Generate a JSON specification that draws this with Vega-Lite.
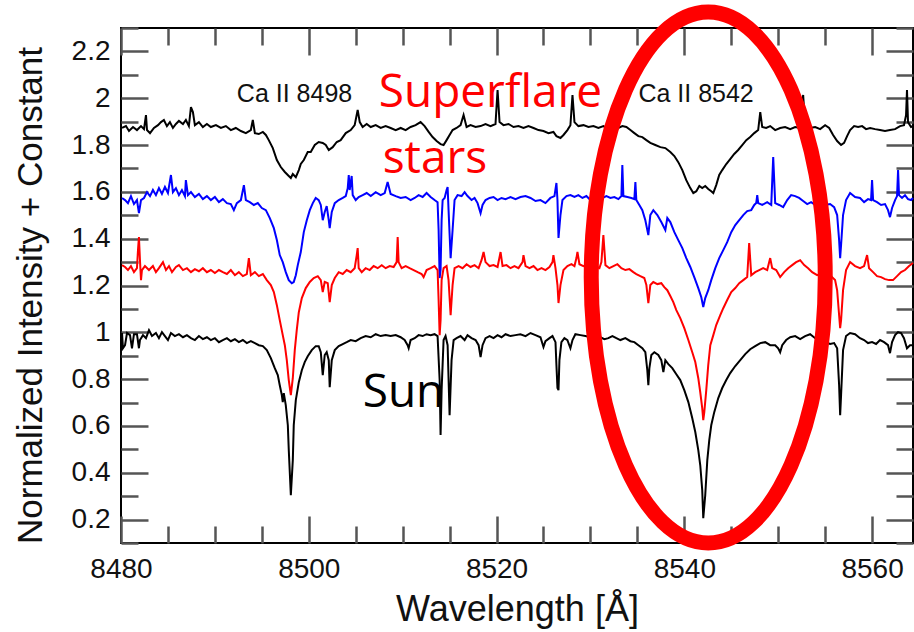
{
"$schema": "https://vega.github.io/schema/vega-lite/v6.json",
"width": 792, "height": 515,
"autosize": {"type": "none"},
"padding": {"left": 121, "top": 28, "right": 1, "bottom": 89},
"background": "white",
"config": {
  "view": {"stroke": "#000000", "strokeWidth": 2},
  "axis": {"grid": false, "domain": false, "labelFont": "Liberation Sans", "titleFont": "Liberation Sans", "titleFontWeight": "normal", "labelColor": "#111111", "titleColor": "#111111", "tickColor": "#555555", "tickWidth": 2.5, "labelOverlap": false, "labelFlush": false, "labelBound": false}
},
"layer": [
{
"data": {"values": [
{"s":"A","w":8480.11,"v":1.873},{"s":"A","w":8480.53,"v":1.881},{"s":"A","w":8480.85,"v":1.860},{"s":"A","w":8481.28,"v":1.877},{"s":"A","w":8481.70,"v":1.864},{"s":"A","w":8482.13,"v":1.881},{"s":"A","w":8482.45,"v":1.868},{"s":"A","w":8482.66,"v":1.928},{"s":"A","w":8482.77,"v":1.864},{"s":"A","w":8483.09,"v":1.851},{"s":"A","w":8483.51,"v":1.873},{"s":"A","w":8483.94,"v":1.885},{"s":"A","w":8484.26,"v":1.898},{"s":"A","w":8484.57,"v":1.907},{"s":"A","w":8484.89,"v":1.881},{"s":"A","w":8485.21,"v":1.898},{"s":"A","w":8485.53,"v":1.873},{"s":"A","w":8485.85,"v":1.890},{"s":"A","w":8486.17,"v":1.903},{"s":"A","w":8486.60,"v":1.890},{"s":"A","w":8486.91,"v":1.907},{"s":"A","w":8487.23,"v":1.881},{"s":"A","w":8487.45,"v":1.962},{"s":"A","w":8487.66,"v":1.941},{"s":"A","w":8487.87,"v":1.885},{"s":"A","w":8488.30,"v":1.898},{"s":"A","w":8488.72,"v":1.877},{"s":"A","w":8489.15,"v":1.890},{"s":"A","w":8489.57,"v":1.877},{"s":"A","w":8490.11,"v":1.885},{"s":"A","w":8490.64,"v":1.873},{"s":"A","w":8491.17,"v":1.881},{"s":"A","w":8491.70,"v":1.864},{"s":"A","w":8492.23,"v":1.873},{"s":"A","w":8492.77,"v":1.860},{"s":"A","w":8493.30,"v":1.851},{"s":"A","w":8493.83,"v":1.864},{"s":"A","w":8494.04,"v":1.907},{"s":"A","w":8494.26,"v":1.851},{"s":"A","w":8494.68,"v":1.847},{"s":"A","w":8495.11,"v":1.856},{"s":"A","w":8495.43,"v":1.843},{"s":"A","w":8495.74,"v":1.821},{"s":"A","w":8496.17,"v":1.787},{"s":"A","w":8496.60,"v":1.736},{"s":"A","w":8497.02,"v":1.706},{"s":"A","w":8497.45,"v":1.685},{"s":"A","w":8497.87,"v":1.668},{"s":"A","w":8498.09,"v":1.659},{"s":"A","w":8498.30,"v":1.676},{"s":"A","w":8498.62,"v":1.663},{"s":"A","w":8498.94,"v":1.693},{"s":"A","w":8499.15,"v":1.719},{"s":"A","w":8499.47,"v":1.736},{"s":"A","w":8499.89,"v":1.770},{"s":"A","w":8500.21,"v":1.770},{"s":"A","w":8500.64,"v":1.800},{"s":"A","w":8501.06,"v":1.813},{"s":"A","w":8501.49,"v":1.809},{"s":"A","w":8501.81,"v":1.800},{"s":"A","w":8502.13,"v":1.779},{"s":"A","w":8502.55,"v":1.791},{"s":"A","w":8502.98,"v":1.813},{"s":"A","w":8503.40,"v":1.821},{"s":"A","w":8503.94,"v":1.851},{"s":"A","w":8504.47,"v":1.864},{"s":"A","w":8504.89,"v":1.885},{"s":"A","w":8505.21,"v":1.950},{"s":"A","w":8505.43,"v":1.898},{"s":"A","w":8505.74,"v":1.877},{"s":"A","w":8506.17,"v":1.890},{"s":"A","w":8506.60,"v":1.877},{"s":"A","w":8507.13,"v":1.885},{"s":"A","w":8507.66,"v":1.873},{"s":"A","w":8508.19,"v":1.881},{"s":"A","w":8508.72,"v":1.873},{"s":"A","w":8509.26,"v":1.864},{"s":"A","w":8509.79,"v":1.873},{"s":"A","w":8510.32,"v":1.864},{"s":"A","w":8510.85,"v":1.877},{"s":"A","w":8511.38,"v":1.885},{"s":"A","w":8511.91,"v":1.898},{"s":"A","w":8512.34,"v":1.881},{"s":"A","w":8512.77,"v":1.856},{"s":"A","w":8513.19,"v":1.834},{"s":"A","w":8513.62,"v":1.817},{"s":"A","w":8514.04,"v":1.804},{"s":"A","w":8514.36,"v":1.800},{"s":"A","w":8514.68,"v":1.821},{"s":"A","w":8515.00,"v":1.843},{"s":"A","w":8515.32,"v":1.864},{"s":"A","w":8515.74,"v":1.873},{"s":"A","w":8516.17,"v":1.885},{"s":"A","w":8516.49,"v":1.928},{"s":"A","w":8516.81,"v":1.877},{"s":"A","w":8517.23,"v":1.885},{"s":"A","w":8517.77,"v":1.877},{"s":"A","w":8518.30,"v":1.881},{"s":"A","w":8518.83,"v":1.890},{"s":"A","w":8519.36,"v":1.881},{"s":"A","w":8519.89,"v":1.890},{"s":"A","w":8520.11,"v":2.035},{"s":"A","w":8520.32,"v":1.898},{"s":"A","w":8520.74,"v":1.885},{"s":"A","w":8521.28,"v":1.890},{"s":"A","w":8521.81,"v":1.877},{"s":"A","w":8522.34,"v":1.881},{"s":"A","w":8522.87,"v":1.873},{"s":"A","w":8523.40,"v":1.881},{"s":"A","w":8523.94,"v":1.873},{"s":"A","w":8524.47,"v":1.864},{"s":"A","w":8525.00,"v":1.860},{"s":"A","w":8525.53,"v":1.851},{"s":"A","w":8526.06,"v":1.856},{"s":"A","w":8526.38,"v":1.838},{"s":"A","w":8526.81,"v":1.830},{"s":"A","w":8527.13,"v":1.843},{"s":"A","w":8527.55,"v":1.864},{"s":"A","w":8527.87,"v":1.885},{"s":"A","w":8528.09,"v":2.014},{"s":"A","w":8528.30,"v":1.898},{"s":"A","w":8528.72,"v":1.881},{"s":"A","w":8529.26,"v":1.885},{"s":"A","w":8529.79,"v":1.877},{"s":"A","w":8530.32,"v":1.881},{"s":"A","w":8530.85,"v":1.873},{"s":"A","w":8531.38,"v":1.881},{"s":"A","w":8531.91,"v":1.868},{"s":"A","w":8532.45,"v":1.881},{"s":"A","w":8532.98,"v":1.873},{"s":"A","w":8533.40,"v":1.881},{"s":"A","w":8533.83,"v":1.877},{"s":"A","w":8534.26,"v":1.864},{"s":"A","w":8534.68,"v":1.851},{"s":"A","w":8535.11,"v":1.838},{"s":"A","w":8535.53,"v":1.834},{"s":"A","w":8535.96,"v":1.821},{"s":"A","w":8536.38,"v":1.809},{"s":"A","w":8536.91,"v":1.800},{"s":"A","w":8537.45,"v":1.791},{"s":"A","w":8537.98,"v":1.787},{"s":"A","w":8538.51,"v":1.770},{"s":"A","w":8538.94,"v":1.753},{"s":"A","w":8539.36,"v":1.727},{"s":"A","w":8539.79,"v":1.693},{"s":"A","w":8540.21,"v":1.650},{"s":"A","w":8540.64,"v":1.616},{"s":"A","w":8540.96,"v":1.595},{"s":"A","w":8541.28,"v":1.603},{"s":"A","w":8541.60,"v":1.625},{"s":"A","w":8541.91,"v":1.616},{"s":"A","w":8542.23,"v":1.625},{"s":"A","w":8542.55,"v":1.612},{"s":"A","w":8542.87,"v":1.603},{"s":"A","w":8543.09,"v":1.595},{"s":"A","w":8543.40,"v":1.629},{"s":"A","w":8543.72,"v":1.672},{"s":"A","w":8544.04,"v":1.693},{"s":"A","w":8544.47,"v":1.719},{"s":"A","w":8544.89,"v":1.740},{"s":"A","w":8545.32,"v":1.762},{"s":"A","w":8545.74,"v":1.779},{"s":"A","w":8546.17,"v":1.800},{"s":"A","w":8546.60,"v":1.821},{"s":"A","w":8547.02,"v":1.834},{"s":"A","w":8547.45,"v":1.851},{"s":"A","w":8547.87,"v":1.864},{"s":"A","w":8548.09,"v":1.941},{"s":"A","w":8548.30,"v":1.877},{"s":"A","w":8548.72,"v":1.873},{"s":"A","w":8549.15,"v":1.881},{"s":"A","w":8549.68,"v":1.864},{"s":"A","w":8550.21,"v":1.873},{"s":"A","w":8550.74,"v":1.877},{"s":"A","w":8551.28,"v":1.868},{"s":"A","w":8551.81,"v":1.877},{"s":"A","w":8552.34,"v":1.873},{"s":"A","w":8552.66,"v":2.014},{"s":"A","w":8552.87,"v":1.881},{"s":"A","w":8553.40,"v":1.873},{"s":"A","w":8553.94,"v":1.877},{"s":"A","w":8554.47,"v":1.868},{"s":"A","w":8555.00,"v":1.885},{"s":"A","w":8555.43,"v":1.873},{"s":"A","w":8555.85,"v":1.843},{"s":"A","w":8556.28,"v":1.817},{"s":"A","w":8556.70,"v":1.800},{"s":"A","w":8557.02,"v":1.809},{"s":"A","w":8557.34,"v":1.838},{"s":"A","w":8557.66,"v":1.864},{"s":"A","w":8558.09,"v":1.881},{"s":"A","w":8558.51,"v":1.877},{"s":"A","w":8558.94,"v":1.881},{"s":"A","w":8559.36,"v":1.868},{"s":"A","w":8559.79,"v":1.873},{"s":"A","w":8560.32,"v":1.868},{"s":"A","w":8560.85,"v":1.864},{"s":"A","w":8561.38,"v":1.860},{"s":"A","w":8561.91,"v":1.864},{"s":"A","w":8562.45,"v":1.868},{"s":"A","w":8562.98,"v":1.881},{"s":"A","w":8563.40,"v":1.885},{"s":"A","w":8563.62,"v":1.928},{"s":"A","w":8563.72,"v":2.035},{"s":"A","w":8563.83,"v":1.898},{"s":"A","w":8564.15,"v":1.877},{"s":"A","w":8564.36,"v":1.881},
{"s":"B","w":8480.11,"v":1.574},{"s":"B","w":8480.43,"v":1.565},{"s":"B","w":8480.74,"v":1.552},{"s":"B","w":8481.06,"v":1.582},{"s":"B","w":8481.38,"v":1.548},{"s":"B","w":8481.70,"v":1.565},{"s":"B","w":8481.91,"v":1.509},{"s":"B","w":8482.13,"v":1.565},{"s":"B","w":8482.45,"v":1.574},{"s":"B","w":8482.77,"v":1.599},{"s":"B","w":8483.09,"v":1.582},{"s":"B","w":8483.40,"v":1.608},{"s":"B","w":8483.72,"v":1.586},{"s":"B","w":8484.04,"v":1.616},{"s":"B","w":8484.36,"v":1.591},{"s":"B","w":8484.68,"v":1.621},{"s":"B","w":8485.00,"v":1.595},{"s":"B","w":8485.32,"v":1.672},{"s":"B","w":8485.53,"v":1.599},{"s":"B","w":8485.85,"v":1.616},{"s":"B","w":8486.17,"v":1.586},{"s":"B","w":8486.49,"v":1.608},{"s":"B","w":8486.81,"v":1.582},{"s":"B","w":8486.91,"v":1.650},{"s":"B","w":8487.13,"v":1.586},{"s":"B","w":8487.45,"v":1.599},{"s":"B","w":8487.87,"v":1.578},{"s":"B","w":8488.30,"v":1.591},{"s":"B","w":8488.72,"v":1.569},{"s":"B","w":8489.15,"v":1.582},{"s":"B","w":8489.57,"v":1.565},{"s":"B","w":8490.00,"v":1.578},{"s":"B","w":8490.43,"v":1.556},{"s":"B","w":8490.85,"v":1.569},{"s":"B","w":8491.28,"v":1.552},{"s":"B","w":8491.70,"v":1.548},{"s":"B","w":8492.02,"v":1.522},{"s":"B","w":8492.34,"v":1.552},{"s":"B","w":8492.77,"v":1.565},{"s":"B","w":8493.09,"v":1.629},{"s":"B","w":8493.30,"v":1.565},{"s":"B","w":8493.72,"v":1.556},{"s":"B","w":8494.15,"v":1.544},{"s":"B","w":8494.57,"v":1.552},{"s":"B","w":8495.00,"v":1.531},{"s":"B","w":8495.43,"v":1.522},{"s":"B","w":8495.85,"v":1.488},{"s":"B","w":8496.28,"v":1.445},{"s":"B","w":8496.60,"v":1.394},{"s":"B","w":8496.91,"v":1.330},{"s":"B","w":8497.23,"v":1.300},{"s":"B","w":8497.55,"v":1.257},{"s":"B","w":8497.87,"v":1.223},{"s":"B","w":8498.19,"v":1.210},{"s":"B","w":8498.40,"v":1.215},{"s":"B","w":8498.62,"v":1.244},{"s":"B","w":8498.83,"v":1.287},{"s":"B","w":8499.15,"v":1.343},{"s":"B","w":8499.47,"v":1.428},{"s":"B","w":8499.79,"v":1.479},{"s":"B","w":8500.11,"v":1.522},{"s":"B","w":8500.43,"v":1.552},{"s":"B","w":8500.74,"v":1.574},{"s":"B","w":8501.06,"v":1.565},{"s":"B","w":8501.28,"v":1.544},{"s":"B","w":8501.49,"v":1.479},{"s":"B","w":8501.70,"v":1.514},{"s":"B","w":8501.91,"v":1.539},{"s":"B","w":8502.13,"v":1.479},{"s":"B","w":8502.23,"v":1.445},{"s":"B","w":8502.45,"v":1.514},{"s":"B","w":8502.77,"v":1.552},{"s":"B","w":8503.19,"v":1.565},{"s":"B","w":8503.62,"v":1.574},{"s":"B","w":8503.94,"v":1.582},{"s":"B","w":8504.15,"v":1.616},{"s":"B","w":8504.26,"v":1.672},{"s":"B","w":8504.36,"v":1.608},{"s":"B","w":8504.57,"v":1.668},{"s":"B","w":8504.68,"v":1.586},{"s":"B","w":8505.00,"v":1.565},{"s":"B","w":8505.32,"v":1.578},{"s":"B","w":8505.74,"v":1.586},{"s":"B","w":8506.17,"v":1.595},{"s":"B","w":8506.60,"v":1.582},{"s":"B","w":8507.13,"v":1.599},{"s":"B","w":8507.66,"v":1.586},{"s":"B","w":8508.09,"v":1.595},{"s":"B","w":8508.40,"v":1.642},{"s":"B","w":8508.72,"v":1.591},{"s":"B","w":8509.26,"v":1.582},{"s":"B","w":8509.79,"v":1.574},{"s":"B","w":8510.32,"v":1.578},{"s":"B","w":8510.85,"v":1.565},{"s":"B","w":8511.28,"v":1.574},{"s":"B","w":8511.70,"v":1.586},{"s":"B","w":8512.13,"v":1.578},{"s":"B","w":8512.55,"v":1.595},{"s":"B","w":8512.98,"v":1.578},{"s":"B","w":8513.40,"v":1.565},{"s":"B","w":8513.72,"v":1.556},{"s":"B","w":8513.83,"v":1.437},{"s":"B","w":8513.94,"v":1.232},{"s":"B","w":8514.04,"v":1.266},{"s":"B","w":8514.15,"v":1.479},{"s":"B","w":8514.26,"v":1.565},{"s":"B","w":8514.47,"v":1.574},{"s":"B","w":8514.68,"v":1.608},{"s":"B","w":8514.79,"v":1.621},{"s":"B","w":8514.89,"v":1.522},{"s":"B","w":8515.11,"v":1.317},{"s":"B","w":8515.32,"v":1.437},{"s":"B","w":8515.53,"v":1.565},{"s":"B","w":8515.85,"v":1.586},{"s":"B","w":8516.28,"v":1.582},{"s":"B","w":8516.60,"v":1.599},{"s":"B","w":8516.91,"v":1.582},{"s":"B","w":8517.34,"v":1.565},{"s":"B","w":8517.66,"v":1.574},{"s":"B","w":8517.98,"v":1.552},{"s":"B","w":8518.30,"v":1.509},{"s":"B","w":8518.51,"v":1.544},{"s":"B","w":8518.83,"v":1.565},{"s":"B","w":8519.26,"v":1.574},{"s":"B","w":8519.68,"v":1.578},{"s":"B","w":8520.11,"v":1.565},{"s":"B","w":8520.53,"v":1.574},{"s":"B","w":8520.96,"v":1.569},{"s":"B","w":8521.49,"v":1.578},{"s":"B","w":8522.02,"v":1.569},{"s":"B","w":8522.55,"v":1.578},{"s":"B","w":8523.09,"v":1.582},{"s":"B","w":8523.62,"v":1.574},{"s":"B","w":8524.15,"v":1.561},{"s":"B","w":8524.68,"v":1.565},{"s":"B","w":8525.21,"v":1.552},{"s":"B","w":8525.74,"v":1.574},{"s":"B","w":8526.17,"v":1.582},{"s":"B","w":8526.38,"v":1.638},{"s":"B","w":8526.49,"v":1.565},{"s":"B","w":8526.60,"v":1.403},{"s":"B","w":8526.81,"v":1.501},{"s":"B","w":8527.02,"v":1.565},{"s":"B","w":8527.45,"v":1.582},{"s":"B","w":8527.87,"v":1.586},{"s":"B","w":8528.30,"v":1.578},{"s":"B","w":8528.72,"v":1.586},{"s":"B","w":8529.15,"v":1.574},{"s":"B","w":8529.57,"v":1.582},{"s":"B","w":8530.00,"v":1.565},{"s":"B","w":8530.43,"v":1.561},{"s":"B","w":8530.85,"v":1.569},{"s":"B","w":8531.28,"v":1.574},{"s":"B","w":8531.70,"v":1.582},{"s":"B","w":8532.13,"v":1.574},{"s":"B","w":8532.55,"v":1.578},{"s":"B","w":8532.98,"v":1.569},{"s":"B","w":8533.30,"v":1.582},{"s":"B","w":8533.40,"v":1.715},{"s":"B","w":8533.51,"v":1.582},{"s":"B","w":8533.94,"v":1.578},{"s":"B","w":8534.36,"v":1.574},{"s":"B","w":8534.68,"v":1.569},{"s":"B","w":8534.79,"v":1.642},{"s":"B","w":8534.89,"v":1.565},{"s":"B","w":8535.21,"v":1.544},{"s":"B","w":8535.53,"v":1.522},{"s":"B","w":8535.85,"v":1.479},{"s":"B","w":8536.17,"v":1.415},{"s":"B","w":8536.38,"v":1.501},{"s":"B","w":8536.70,"v":1.522},{"s":"B","w":8537.13,"v":1.501},{"s":"B","w":8537.55,"v":1.471},{"s":"B","w":8537.98,"v":1.437},{"s":"B","w":8538.19,"v":1.488},{"s":"B","w":8538.51,"v":1.471},{"s":"B","w":8538.94,"v":1.428},{"s":"B","w":8539.36,"v":1.394},{"s":"B","w":8539.79,"v":1.360},{"s":"B","w":8540.21,"v":1.317},{"s":"B","w":8540.64,"v":1.279},{"s":"B","w":8541.06,"v":1.236},{"s":"B","w":8541.49,"v":1.189},{"s":"B","w":8541.81,"v":1.150},{"s":"B","w":8542.02,"v":1.108},{"s":"B","w":8542.23,"v":1.146},{"s":"B","w":8542.55,"v":1.180},{"s":"B","w":8542.87,"v":1.223},{"s":"B","w":8543.30,"v":1.274},{"s":"B","w":8543.72,"v":1.317},{"s":"B","w":8544.15,"v":1.351},{"s":"B","w":8544.57,"v":1.385},{"s":"B","w":8545.00,"v":1.428},{"s":"B","w":8545.43,"v":1.458},{"s":"B","w":8545.85,"v":1.479},{"s":"B","w":8546.28,"v":1.501},{"s":"B","w":8546.70,"v":1.518},{"s":"B","w":8547.13,"v":1.522},{"s":"B","w":8547.45,"v":1.544},{"s":"B","w":8547.66,"v":1.552},{"s":"B","w":8547.77,"v":1.586},{"s":"B","w":8547.87,"v":1.552},{"s":"B","w":8548.30,"v":1.544},{"s":"B","w":8548.83,"v":1.556},{"s":"B","w":8549.26,"v":1.544},{"s":"B","w":8549.47,"v":1.749},{"s":"B","w":8549.68,"v":1.552},{"s":"B","w":8550.11,"v":1.544},{"s":"B","w":8550.53,"v":1.535},{"s":"B","w":8550.96,"v":1.565},{"s":"B","w":8551.38,"v":1.586},{"s":"B","w":8551.81,"v":1.582},{"s":"B","w":8552.23,"v":1.574},{"s":"B","w":8552.66,"v":1.561},{"s":"B","w":8553.09,"v":1.548},{"s":"B","w":8553.51,"v":1.556},{"s":"B","w":8553.94,"v":1.544},{"s":"B","w":8554.47,"v":1.552},{"s":"B","w":8555.00,"v":1.544},{"s":"B","w":8555.53,"v":1.548},{"s":"B","w":8555.96,"v":1.535},{"s":"B","w":8556.28,"v":1.501},{"s":"B","w":8556.49,"v":1.394},{"s":"B","w":8556.60,"v":1.317},{"s":"B","w":8556.70,"v":1.373},{"s":"B","w":8556.91,"v":1.501},{"s":"B","w":8557.23,"v":1.565},{"s":"B","w":8557.66,"v":1.595},{"s":"B","w":8558.19,"v":1.578},{"s":"B","w":8558.72,"v":1.574},{"s":"B","w":8559.15,"v":1.556},{"s":"B","w":8559.57,"v":1.569},{"s":"B","w":8559.89,"v":1.565},{"s":"B","w":8560.00,"v":1.650},{"s":"B","w":8560.11,"v":1.565},{"s":"B","w":8560.53,"v":1.556},{"s":"B","w":8560.96,"v":1.544},{"s":"B","w":8561.38,"v":1.548},{"s":"B","w":8561.70,"v":1.522},{"s":"B","w":8561.91,"v":1.492},{"s":"B","w":8562.13,"v":1.531},{"s":"B","w":8562.45,"v":1.565},{"s":"B","w":8562.66,"v":1.582},{"s":"B","w":8562.77,"v":1.693},{"s":"B","w":8562.87,"v":1.586},{"s":"B","w":8563.19,"v":1.574},{"s":"B","w":8563.51,"v":1.586},{"s":"B","w":8563.83,"v":1.569},{"s":"B","w":8564.15,"v":1.565},{"s":"B","w":8564.36,"v":1.574},
{"s":"C","w":8480.11,"v":1.287},{"s":"C","w":8480.43,"v":1.279},{"s":"C","w":8480.74,"v":1.266},{"s":"C","w":8481.06,"v":1.283},{"s":"C","w":8481.38,"v":1.257},{"s":"C","w":8481.70,"v":1.274},{"s":"C","w":8481.81,"v":1.351},{"s":"C","w":8481.91,"v":1.407},{"s":"C","w":8482.02,"v":1.308},{"s":"C","w":8482.13,"v":1.223},{"s":"C","w":8482.23,"v":1.266},{"s":"C","w":8482.55,"v":1.283},{"s":"C","w":8482.98,"v":1.266},{"s":"C","w":8483.40,"v":1.283},{"s":"C","w":8483.72,"v":1.257},{"s":"C","w":8484.04,"v":1.274},{"s":"C","w":8484.47,"v":1.300},{"s":"C","w":8484.79,"v":1.266},{"s":"C","w":8485.11,"v":1.283},{"s":"C","w":8485.43,"v":1.257},{"s":"C","w":8485.85,"v":1.279},{"s":"C","w":8486.17,"v":1.287},{"s":"C","w":8486.60,"v":1.266},{"s":"C","w":8487.02,"v":1.274},{"s":"C","w":8487.45,"v":1.257},{"s":"C","w":8487.87,"v":1.270},{"s":"C","w":8488.30,"v":1.261},{"s":"C","w":8488.72,"v":1.274},{"s":"C","w":8489.15,"v":1.257},{"s":"C","w":8489.57,"v":1.266},{"s":"C","w":8490.00,"v":1.253},{"s":"C","w":8490.43,"v":1.266},{"s":"C","w":8490.85,"v":1.257},{"s":"C","w":8491.28,"v":1.249},{"s":"C","w":8491.70,"v":1.266},{"s":"C","w":8492.13,"v":1.244},{"s":"C","w":8492.55,"v":1.257},{"s":"C","w":8492.98,"v":1.240},{"s":"C","w":8493.40,"v":1.249},{"s":"C","w":8493.62,"v":1.317},{"s":"C","w":8493.83,"v":1.244},{"s":"C","w":8494.26,"v":1.257},{"s":"C","w":8494.68,"v":1.240},{"s":"C","w":8495.11,"v":1.249},{"s":"C","w":8495.53,"v":1.223},{"s":"C","w":8495.96,"v":1.202},{"s":"C","w":8496.28,"v":1.172},{"s":"C","w":8496.60,"v":1.116},{"s":"C","w":8496.91,"v":1.052},{"s":"C","w":8497.23,"v":0.988},{"s":"C","w":8497.45,"v":0.945},{"s":"C","w":8497.66,"v":0.881},{"s":"C","w":8497.87,"v":0.796},{"s":"C","w":8498.09,"v":0.732},{"s":"C","w":8498.30,"v":0.804},{"s":"C","w":8498.51,"v":0.924},{"s":"C","w":8498.72,"v":1.009},{"s":"C","w":8498.94,"v":1.086},{"s":"C","w":8499.26,"v":1.146},{"s":"C","w":8499.68,"v":1.189},{"s":"C","w":8500.11,"v":1.215},{"s":"C","w":8500.53,"v":1.232},{"s":"C","w":8500.96,"v":1.240},{"s":"C","w":8501.28,"v":1.223},{"s":"C","w":8501.49,"v":1.172},{"s":"C","w":8501.70,"v":1.215},{"s":"C","w":8502.02,"v":1.210},{"s":"C","w":8502.23,"v":1.129},{"s":"C","w":8502.45,"v":1.202},{"s":"C","w":8502.77,"v":1.232},{"s":"C","w":8503.19,"v":1.257},{"s":"C","w":8503.62,"v":1.249},{"s":"C","w":8504.04,"v":1.266},{"s":"C","w":8504.47,"v":1.257},{"s":"C","w":8504.89,"v":1.274},{"s":"C","w":8505.11,"v":1.330},{"s":"C","w":8505.21,"v":1.360},{"s":"C","w":8505.32,"v":1.274},{"s":"C","w":8505.64,"v":1.257},{"s":"C","w":8506.06,"v":1.274},{"s":"C","w":8506.49,"v":1.266},{"s":"C","w":8506.91,"v":1.283},{"s":"C","w":8507.34,"v":1.274},{"s":"C","w":8507.77,"v":1.287},{"s":"C","w":8508.19,"v":1.274},{"s":"C","w":8508.62,"v":1.283},{"s":"C","w":8509.04,"v":1.279},{"s":"C","w":8509.36,"v":1.300},{"s":"C","w":8509.47,"v":1.407},{"s":"C","w":8509.57,"v":1.300},{"s":"C","w":8509.89,"v":1.274},{"s":"C","w":8510.32,"v":1.283},{"s":"C","w":8510.74,"v":1.274},{"s":"C","w":8511.17,"v":1.266},{"s":"C","w":8511.60,"v":1.257},{"s":"C","w":8512.02,"v":1.249},{"s":"C","w":8512.23,"v":1.236},{"s":"C","w":8512.55,"v":1.266},{"s":"C","w":8512.98,"v":1.274},{"s":"C","w":8513.40,"v":1.283},{"s":"C","w":8513.72,"v":1.266},{"s":"C","w":8513.83,"v":1.138},{"s":"C","w":8513.94,"v":0.988},{"s":"C","w":8514.04,"v":1.052},{"s":"C","w":8514.15,"v":1.223},{"s":"C","w":8514.36,"v":1.274},{"s":"C","w":8514.68,"v":1.283},{"s":"C","w":8514.89,"v":1.223},{"s":"C","w":8515.11,"v":1.073},{"s":"C","w":8515.32,"v":1.202},{"s":"C","w":8515.53,"v":1.274},{"s":"C","w":8515.96,"v":1.283},{"s":"C","w":8516.38,"v":1.274},{"s":"C","w":8516.81,"v":1.291},{"s":"C","w":8517.23,"v":1.279},{"s":"C","w":8517.66,"v":1.287},{"s":"C","w":8518.09,"v":1.274},{"s":"C","w":8518.40,"v":1.308},{"s":"C","w":8518.62,"v":1.343},{"s":"C","w":8518.83,"v":1.300},{"s":"C","w":8519.26,"v":1.283},{"s":"C","w":8519.68,"v":1.287},{"s":"C","w":8520.11,"v":1.279},{"s":"C","w":8520.43,"v":1.343},{"s":"C","w":8520.64,"v":1.283},{"s":"C","w":8521.06,"v":1.287},{"s":"C","w":8521.49,"v":1.274},{"s":"C","w":8521.91,"v":1.283},{"s":"C","w":8522.34,"v":1.274},{"s":"C","w":8522.77,"v":1.300},{"s":"C","w":8522.87,"v":1.330},{"s":"C","w":8523.09,"v":1.283},{"s":"C","w":8523.51,"v":1.274},{"s":"C","w":8523.94,"v":1.283},{"s":"C","w":8524.36,"v":1.266},{"s":"C","w":8524.79,"v":1.274},{"s":"C","w":8525.21,"v":1.266},{"s":"C","w":8525.64,"v":1.279},{"s":"C","w":8525.96,"v":1.300},{"s":"C","w":8526.06,"v":1.330},{"s":"C","w":8526.28,"v":1.274},{"s":"C","w":8526.49,"v":1.202},{"s":"C","w":8526.60,"v":1.125},{"s":"C","w":8526.81,"v":1.202},{"s":"C","w":8527.13,"v":1.266},{"s":"C","w":8527.55,"v":1.283},{"s":"C","w":8527.98,"v":1.291},{"s":"C","w":8528.30,"v":1.283},{"s":"C","w":8528.51,"v":1.317},{"s":"C","w":8528.62,"v":1.343},{"s":"C","w":8528.83,"v":1.291},{"s":"C","w":8529.26,"v":1.283},{"s":"C","w":8529.68,"v":1.291},{"s":"C","w":8530.11,"v":1.274},{"s":"C","w":8530.53,"v":1.283},{"s":"C","w":8530.96,"v":1.274},{"s":"C","w":8531.17,"v":1.300},{"s":"C","w":8531.38,"v":1.415},{"s":"C","w":8531.60,"v":1.287},{"s":"C","w":8532.02,"v":1.274},{"s":"C","w":8532.45,"v":1.283},{"s":"C","w":8532.87,"v":1.291},{"s":"C","w":8533.30,"v":1.274},{"s":"C","w":8533.72,"v":1.266},{"s":"C","w":8534.15,"v":1.270},{"s":"C","w":8534.57,"v":1.257},{"s":"C","w":8534.89,"v":1.249},{"s":"C","w":8535.32,"v":1.240},{"s":"C","w":8535.74,"v":1.232},{"s":"C","w":8535.96,"v":1.202},{"s":"C","w":8536.17,"v":1.125},{"s":"C","w":8536.38,"v":1.202},{"s":"C","w":8536.70,"v":1.215},{"s":"C","w":8537.13,"v":1.206},{"s":"C","w":8537.55,"v":1.210},{"s":"C","w":8537.87,"v":1.193},{"s":"C","w":8538.19,"v":1.180},{"s":"C","w":8538.51,"v":1.155},{"s":"C","w":8538.83,"v":1.129},{"s":"C","w":8539.15,"v":1.095},{"s":"C","w":8539.57,"v":1.061},{"s":"C","w":8540.00,"v":1.018},{"s":"C","w":8540.43,"v":0.967},{"s":"C","w":8540.85,"v":0.915},{"s":"C","w":8541.17,"v":0.873},{"s":"C","w":8541.49,"v":0.804},{"s":"C","w":8541.70,"v":0.744},{"s":"C","w":8541.91,"v":0.676},{"s":"C","w":8542.02,"v":0.625},{"s":"C","w":8542.13,"v":0.659},{"s":"C","w":8542.34,"v":0.753},{"s":"C","w":8542.55,"v":0.860},{"s":"C","w":8542.77,"v":0.945},{"s":"C","w":8543.09,"v":0.988},{"s":"C","w":8543.40,"v":1.031},{"s":"C","w":8543.83,"v":1.073},{"s":"C","w":8544.15,"v":1.103},{"s":"C","w":8544.57,"v":1.138},{"s":"C","w":8545.00,"v":1.172},{"s":"C","w":8545.43,"v":1.189},{"s":"C","w":8545.85,"v":1.210},{"s":"C","w":8546.28,"v":1.223},{"s":"C","w":8546.70,"v":1.236},{"s":"C","w":8546.91,"v":1.381},{"s":"C","w":8547.13,"v":1.244},{"s":"C","w":8547.55,"v":1.257},{"s":"C","w":8547.98,"v":1.266},{"s":"C","w":8548.40,"v":1.274},{"s":"C","w":8548.83,"v":1.266},{"s":"C","w":8549.15,"v":1.317},{"s":"C","w":8549.36,"v":1.274},{"s":"C","w":8549.79,"v":1.266},{"s":"C","w":8550.21,"v":1.236},{"s":"C","w":8550.64,"v":1.257},{"s":"C","w":8551.06,"v":1.274},{"s":"C","w":8551.49,"v":1.287},{"s":"C","w":8551.91,"v":1.300},{"s":"C","w":8552.34,"v":1.308},{"s":"C","w":8552.77,"v":1.287},{"s":"C","w":8553.19,"v":1.274},{"s":"C","w":8553.62,"v":1.257},{"s":"C","w":8554.15,"v":1.244},{"s":"C","w":8554.68,"v":1.253},{"s":"C","w":8555.21,"v":1.240},{"s":"C","w":8555.64,"v":1.240},{"s":"C","w":8556.06,"v":1.223},{"s":"C","w":8556.28,"v":1.180},{"s":"C","w":8556.49,"v":1.073},{"s":"C","w":8556.60,"v":1.018},{"s":"C","w":8556.70,"v":1.052},{"s":"C","w":8556.91,"v":1.180},{"s":"C","w":8557.23,"v":1.266},{"s":"C","w":8557.66,"v":1.300},{"s":"C","w":8558.19,"v":1.283},{"s":"C","w":8558.72,"v":1.274},{"s":"C","w":8559.15,"v":1.283},{"s":"C","w":8559.47,"v":1.330},{"s":"C","w":8559.68,"v":1.274},{"s":"C","w":8560.11,"v":1.257},{"s":"C","w":8560.53,"v":1.240},{"s":"C","w":8560.96,"v":1.236},{"s":"C","w":8561.38,"v":1.227},{"s":"C","w":8561.81,"v":1.223},{"s":"C","w":8562.23,"v":1.223},{"s":"C","w":8562.66,"v":1.240},{"s":"C","w":8563.09,"v":1.257},{"s":"C","w":8563.51,"v":1.266},{"s":"C","w":8563.94,"v":1.283},{"s":"C","w":8564.36,"v":1.296},
{"s":"Sun","w":8480.11,"v":0.997},{"s":"Sun","w":8480.21,"v":0.932},{"s":"Sun","w":8480.43,"v":0.945},{"s":"Sun","w":8480.64,"v":0.997},{"s":"Sun","w":8480.96,"v":0.988},{"s":"Sun","w":8481.17,"v":0.932},{"s":"Sun","w":8481.38,"v":0.992},{"s":"Sun","w":8481.70,"v":0.992},{"s":"Sun","w":8481.91,"v":0.932},{"s":"Sun","w":8482.02,"v":0.967},{"s":"Sun","w":8482.34,"v":0.988},{"s":"Sun","w":8482.66,"v":0.975},{"s":"Sun","w":8482.98,"v":1.009},{"s":"Sun","w":8483.30,"v":0.984},{"s":"Sun","w":8483.72,"v":0.997},{"s":"Sun","w":8484.04,"v":0.975},{"s":"Sun","w":8484.36,"v":1.001},{"s":"Sun","w":8484.68,"v":0.984},{"s":"Sun","w":8485.00,"v":0.967},{"s":"Sun","w":8485.32,"v":0.997},{"s":"Sun","w":8485.74,"v":0.984},{"s":"Sun","w":8486.17,"v":0.992},{"s":"Sun","w":8486.60,"v":0.979},{"s":"Sun","w":8487.02,"v":0.988},{"s":"Sun","w":8487.45,"v":0.975},{"s":"Sun","w":8487.87,"v":0.967},{"s":"Sun","w":8488.30,"v":0.984},{"s":"Sun","w":8488.72,"v":0.971},{"s":"Sun","w":8489.15,"v":0.979},{"s":"Sun","w":8489.57,"v":0.967},{"s":"Sun","w":8490.00,"v":0.975},{"s":"Sun","w":8490.43,"v":0.958},{"s":"Sun","w":8490.85,"v":0.967},{"s":"Sun","w":8491.28,"v":0.975},{"s":"Sun","w":8491.70,"v":0.962},{"s":"Sun","w":8492.13,"v":0.971},{"s":"Sun","w":8492.55,"v":0.958},{"s":"Sun","w":8492.98,"v":0.967},{"s":"Sun","w":8493.40,"v":0.954},{"s":"Sun","w":8493.83,"v":0.962},{"s":"Sun","w":8494.26,"v":0.954},{"s":"Sun","w":8494.68,"v":0.945},{"s":"Sun","w":8495.11,"v":0.941},{"s":"Sun","w":8495.53,"v":0.924},{"s":"Sun","w":8495.96,"v":0.890},{"s":"Sun","w":8496.38,"v":0.847},{"s":"Sun","w":8496.70,"v":0.817},{"s":"Sun","w":8496.91,"v":0.774},{"s":"Sun","w":8497.13,"v":0.732},{"s":"Sun","w":8497.23,"v":0.702},{"s":"Sun","w":8497.34,"v":0.740},{"s":"Sun","w":8497.55,"v":0.689},{"s":"Sun","w":8497.77,"v":0.603},{"s":"Sun","w":8497.87,"v":0.497},{"s":"Sun","w":8498.09,"v":0.304},{"s":"Sun","w":8498.30,"v":0.454},{"s":"Sun","w":8498.40,"v":0.603},{"s":"Sun","w":8498.62,"v":0.710},{"s":"Sun","w":8498.94,"v":0.787},{"s":"Sun","w":8499.26,"v":0.838},{"s":"Sun","w":8499.57,"v":0.873},{"s":"Sun","w":8499.89,"v":0.898},{"s":"Sun","w":8500.32,"v":0.924},{"s":"Sun","w":8500.74,"v":0.941},{"s":"Sun","w":8501.06,"v":0.941},{"s":"Sun","w":8501.28,"v":0.915},{"s":"Sun","w":8501.49,"v":0.817},{"s":"Sun","w":8501.70,"v":0.903},{"s":"Sun","w":8501.91,"v":0.915},{"s":"Sun","w":8502.13,"v":0.881},{"s":"Sun","w":8502.23,"v":0.766},{"s":"Sun","w":8502.45,"v":0.881},{"s":"Sun","w":8502.77,"v":0.924},{"s":"Sun","w":8503.19,"v":0.941},{"s":"Sun","w":8503.62,"v":0.950},{"s":"Sun","w":8504.04,"v":0.958},{"s":"Sun","w":8504.47,"v":0.967},{"s":"Sun","w":8505.00,"v":0.962},{"s":"Sun","w":8505.53,"v":0.975},{"s":"Sun","w":8506.06,"v":0.984},{"s":"Sun","w":8506.60,"v":0.979},{"s":"Sun","w":8507.13,"v":0.992},{"s":"Sun","w":8507.66,"v":0.984},{"s":"Sun","w":8508.19,"v":0.988},{"s":"Sun","w":8508.72,"v":0.984},{"s":"Sun","w":8509.26,"v":0.988},{"s":"Sun","w":8509.79,"v":0.979},{"s":"Sun","w":8510.21,"v":0.967},{"s":"Sun","w":8510.53,"v":0.945},{"s":"Sun","w":8510.64,"v":0.932},{"s":"Sun","w":8510.85,"v":0.967},{"s":"Sun","w":8511.28,"v":0.975},{"s":"Sun","w":8511.70,"v":0.988},{"s":"Sun","w":8512.13,"v":0.984},{"s":"Sun","w":8512.55,"v":0.992},{"s":"Sun","w":8512.98,"v":0.988},{"s":"Sun","w":8513.40,"v":0.992},{"s":"Sun","w":8513.72,"v":0.984},{"s":"Sun","w":8513.94,"v":0.796},{"s":"Sun","w":8514.04,"v":0.561},{"s":"Sun","w":8514.15,"v":0.753},{"s":"Sun","w":8514.36,"v":0.967},{"s":"Sun","w":8514.57,"v":0.984},{"s":"Sun","w":8514.79,"v":0.945},{"s":"Sun","w":8515.00,"v":0.646},{"s":"Sun","w":8515.21,"v":0.881},{"s":"Sun","w":8515.43,"v":0.967},{"s":"Sun","w":8515.74,"v":0.975},{"s":"Sun","w":8516.17,"v":0.984},{"s":"Sun","w":8516.60,"v":0.967},{"s":"Sun","w":8516.91,"v":0.988},{"s":"Sun","w":8517.34,"v":0.975},{"s":"Sun","w":8517.77,"v":0.967},{"s":"Sun","w":8518.09,"v":0.945},{"s":"Sun","w":8518.30,"v":0.894},{"s":"Sun","w":8518.51,"v":0.945},{"s":"Sun","w":8518.83,"v":0.975},{"s":"Sun","w":8519.26,"v":0.984},{"s":"Sun","w":8519.68,"v":0.975},{"s":"Sun","w":8520.11,"v":0.988},{"s":"Sun","w":8520.53,"v":0.979},{"s":"Sun","w":8520.96,"v":0.992},{"s":"Sun","w":8521.49,"v":0.984},{"s":"Sun","w":8522.02,"v":0.988},{"s":"Sun","w":8522.55,"v":0.992},{"s":"Sun","w":8523.09,"v":0.984},{"s":"Sun","w":8523.62,"v":0.997},{"s":"Sun","w":8524.15,"v":0.988},{"s":"Sun","w":8524.68,"v":0.979},{"s":"Sun","w":8525.00,"v":0.937},{"s":"Sun","w":8525.21,"v":0.962},{"s":"Sun","w":8525.64,"v":0.975},{"s":"Sun","w":8525.96,"v":0.984},{"s":"Sun","w":8526.28,"v":0.958},{"s":"Sun","w":8526.38,"v":0.860},{"s":"Sun","w":8526.49,"v":0.762},{"s":"Sun","w":8526.60,"v":0.753},{"s":"Sun","w":8526.70,"v":0.881},{"s":"Sun","w":8526.91,"v":0.958},{"s":"Sun","w":8527.23,"v":0.975},{"s":"Sun","w":8527.55,"v":0.967},{"s":"Sun","w":8527.87,"v":0.932},{"s":"Sun","w":8528.09,"v":0.967},{"s":"Sun","w":8528.40,"v":0.992},{"s":"Sun","w":8528.94,"v":0.988},{"s":"Sun","w":8529.47,"v":0.984},{"s":"Sun","w":8530.00,"v":0.979},{"s":"Sun","w":8530.53,"v":0.988},{"s":"Sun","w":8531.06,"v":0.979},{"s":"Sun","w":8531.49,"v":0.971},{"s":"Sun","w":8531.91,"v":0.975},{"s":"Sun","w":8532.34,"v":0.984},{"s":"Sun","w":8532.77,"v":0.975},{"s":"Sun","w":8533.19,"v":0.967},{"s":"Sun","w":8533.72,"v":0.975},{"s":"Sun","w":8534.26,"v":0.962},{"s":"Sun","w":8534.68,"v":0.958},{"s":"Sun","w":8535.11,"v":0.945},{"s":"Sun","w":8535.53,"v":0.932},{"s":"Sun","w":8535.85,"v":0.915},{"s":"Sun","w":8536.06,"v":0.838},{"s":"Sun","w":8536.17,"v":0.774},{"s":"Sun","w":8536.28,"v":0.847},{"s":"Sun","w":8536.49,"v":0.903},{"s":"Sun","w":8536.81,"v":0.915},{"s":"Sun","w":8537.23,"v":0.903},{"s":"Sun","w":8537.55,"v":0.881},{"s":"Sun","w":8537.77,"v":0.830},{"s":"Sun","w":8537.98,"v":0.881},{"s":"Sun","w":8538.30,"v":0.864},{"s":"Sun","w":8538.72,"v":0.847},{"s":"Sun","w":8539.15,"v":0.821},{"s":"Sun","w":8539.57,"v":0.796},{"s":"Sun","w":8540.00,"v":0.753},{"s":"Sun","w":8540.43,"v":0.702},{"s":"Sun","w":8540.85,"v":0.633},{"s":"Sun","w":8541.17,"v":0.574},{"s":"Sun","w":8541.49,"v":0.497},{"s":"Sun","w":8541.70,"v":0.432},{"s":"Sun","w":8541.91,"v":0.326},{"s":"Sun","w":8542.02,"v":0.206},{"s":"Sun","w":8542.23,"v":0.304},{"s":"Sun","w":8542.45,"v":0.454},{"s":"Sun","w":8542.66,"v":0.539},{"s":"Sun","w":8542.87,"v":0.603},{"s":"Sun","w":8543.19,"v":0.659},{"s":"Sun","w":8543.62,"v":0.719},{"s":"Sun","w":8544.04,"v":0.762},{"s":"Sun","w":8544.47,"v":0.796},{"s":"Sun","w":8544.89,"v":0.826},{"s":"Sun","w":8545.43,"v":0.856},{"s":"Sun","w":8545.96,"v":0.881},{"s":"Sun","w":8546.49,"v":0.907},{"s":"Sun","w":8547.02,"v":0.928},{"s":"Sun","w":8547.55,"v":0.941},{"s":"Sun","w":8548.09,"v":0.954},{"s":"Sun","w":8548.62,"v":0.958},{"s":"Sun","w":8549.15,"v":0.945},{"s":"Sun","w":8549.68,"v":0.945},{"s":"Sun","w":8550.00,"v":0.932},{"s":"Sun","w":8550.21,"v":0.915},{"s":"Sun","w":8550.43,"v":0.945},{"s":"Sun","w":8550.85,"v":0.967},{"s":"Sun","w":8551.28,"v":0.979},{"s":"Sun","w":8551.81,"v":0.984},{"s":"Sun","w":8552.34,"v":0.971},{"s":"Sun","w":8552.87,"v":0.984},{"s":"Sun","w":8553.40,"v":0.992},{"s":"Sun","w":8553.94,"v":0.975},{"s":"Sun","w":8554.47,"v":0.967},{"s":"Sun","w":8555.00,"v":0.958},{"s":"Sun","w":8555.53,"v":0.950},{"s":"Sun","w":8555.96,"v":0.954},{"s":"Sun","w":8556.28,"v":0.932},{"s":"Sun","w":8556.49,"v":0.774},{"s":"Sun","w":8556.60,"v":0.646},{"s":"Sun","w":8556.70,"v":0.732},{"s":"Sun","w":8556.91,"v":0.924},{"s":"Sun","w":8557.23,"v":0.984},{"s":"Sun","w":8557.66,"v":0.997},{"s":"Sun","w":8558.19,"v":0.992},{"s":"Sun","w":8558.72,"v":0.975},{"s":"Sun","w":8559.15,"v":0.967},{"s":"Sun","w":8559.57,"v":0.954},{"s":"Sun","w":8560.00,"v":0.958},{"s":"Sun","w":8560.43,"v":0.950},{"s":"Sun","w":8560.85,"v":0.967},{"s":"Sun","w":8561.28,"v":0.958},{"s":"Sun","w":8561.70,"v":0.945},{"s":"Sun","w":8561.91,"v":0.911},{"s":"Sun","w":8562.13,"v":0.958},{"s":"Sun","w":8562.45,"v":0.988},{"s":"Sun","w":8562.77,"v":1.001},{"s":"Sun","w":8563.09,"v":0.997},{"s":"Sun","w":8563.40,"v":0.975},{"s":"Sun","w":8563.72,"v":0.932},{"s":"Sun","w":8564.04,"v":0.945},{"s":"Sun","w":8564.36,"v":0.945}
]},
"mark": {"type": "line", "strokeWidth": 2},
"encoding": {
  "x": {"field": "w", "type": "quantitative", "scale": {"domain": [8480, 8564.36], "nice": false, "zero": false},
    "axis": {"orient": "bottom", "values": [8480,8485,8490,8495,8500,8505,8510,8515,8520,8525,8530,8535,8540,8545,8550,8555,8560],
      "tickSize": {"condition": {"test": "datum.value % 20 == 0", "value": -27}, "value": -17},
      "labelExpr": "datum.value % 20 == 0 ? format(datum.value, 'd') : ''",
      "labelPadding": 39, "labelFontSize": 28,
      "title": "Wavelength [Å]", "titleFontSize": 36, "titleX": 396, "titleY": 77, "titleBaseline": "alphabetic", "titleAlign": "center"}},
  "y": {"field": "v", "type": "quantitative", "scale": {"domain": [0.1, 2.3], "nice": false, "zero": false},
    "axis": {"orient": "left", "values": [0.1,0.2,0.3,0.4,0.5,0.6,0.7,0.8,0.9,1,1.1,1.2,1.3,1.4,1.5,1.6,1.7,1.8,1.9,2,2.1,2.2,2.3],
      "tickSize": {"condition": {"test": "round(datum.value*10) % 2 == 0", "value": -27}, "value": -17},
      "labelExpr": "round(datum.value*10) % 2 == 0 ? format(datum.value, '~g') : ''",
      "labelPadding": 38, "labelFontSize": 28,
      "title": "Normalized Intensity + Constant", "titleFontSize": 35, "titleX": -91, "titleY": 267, "titleBaseline": "middle", "titleAlign": "center", "titleAngle": -90}},
  "color": {"field": "s", "type": "nominal", "scale": {"domain": ["A","B","C","Sun"], "range": ["#000000","#0000ff","#ff0000","#000000"]}, "legend": null}
}
},
{
"data": {"values": [{"w": 8542.55, "v": 1.234}]},
"mark": {"type": "point", "shape": "M 0 -1 C 0.2434 -1 0.4407 -0.5523 0.4407 0 C 0.4407 0.5523 0.2434 1 0 1 C -0.2434 1 -0.4407 0.5523 -0.4407 0 C -0.4407 -0.5523 -0.2434 -1 0 -1 Z", "filled": false, "stroke": "#ff0000", "strokeWidth": 15, "size": 281961, "opacity": 1},
"encoding": {
  "x": {"field": "w", "type": "quantitative", "scale": {"domain": [8480, 8564.36], "nice": false, "zero": false},
    "axis": {"orient": "top", "values": [8480,8485,8490,8495,8500,8505,8510,8515,8520,8525,8530,8535,8540,8545,8550,8555,8560],
      "tickSize": {"condition": {"test": "datum.value % 20 == 0", "value": -27}, "value": -17}, "labels": false, "title": null}},
  "y": {"field": "v", "type": "quantitative", "scale": {"domain": [0.1, 2.3], "nice": false, "zero": false},
    "axis": {"orient": "right", "values": [0.1,0.2,0.3,0.4,0.5,0.6,0.7,0.8,0.9,1,1.1,1.2,1.3,1.4,1.5,1.6,1.7,1.8,1.9,2,2.1,2.2,2.3],
      "tickSize": {"condition": {"test": "round(datum.value*10) % 2 == 0", "value": -27}, "value": -17}, "labels": false, "title": null}}
}
},
{
"data": {"values": [{"w": 8492.34, "v": 1.984, "t": "Ca II 8498"}, {"w": 8535.11, "v": 1.984, "t": "Ca II 8542"}]},
"mark": {"type": "text", "align": "left", "baseline": "alphabetic", "font": "Liberation Sans", "fontSize": 25, "color": "#111111"},
"encoding": {
  "x": {"field": "w", "type": "quantitative", "scale": {"domain": [8480, 8564.36], "nice": false, "zero": false}, "axis": null},
  "y": {"field": "v", "type": "quantitative", "scale": {"domain": [0.1, 2.3], "nice": false, "zero": false}, "axis": null},
  "text": {"field": "t"}
}
},
{
"data": {"values": [{"w": 8507.45, "v": 1.962, "t": "Superflare"}, {"w": 8507.87, "v": 1.680, "t": "stars"}]},
"mark": {"type": "text", "align": "left", "baseline": "alphabetic", "font": "Open Sans", "fontSize": 46, "color": "#ff0000"},
"encoding": {
  "x": {"field": "w", "type": "quantitative", "scale": {"domain": [8480, 8564.36], "nice": false, "zero": false}, "axis": null},
  "y": {"field": "v", "type": "quantitative", "scale": {"domain": [0.1, 2.3], "nice": false, "zero": false}, "axis": null},
  "text": {"field": "t"}
}
},
{
"data": {"values": [{"w": 8505.74, "v": 0.680, "t": "Sun"}]},
"mark": {"type": "text", "align": "left", "baseline": "alphabetic", "font": "Open Sans", "fontSize": 46, "color": "#000000"},
"encoding": {
  "x": {"field": "w", "type": "quantitative", "scale": {"domain": [8480, 8564.36], "nice": false, "zero": false}, "axis": null},
  "y": {"field": "v", "type": "quantitative", "scale": {"domain": [0.1, 2.3], "nice": false, "zero": false}, "axis": null},
  "text": {"field": "t"}
}
}
],
"resolve": {"axis": {"x": "independent", "y": "independent"}}
}
